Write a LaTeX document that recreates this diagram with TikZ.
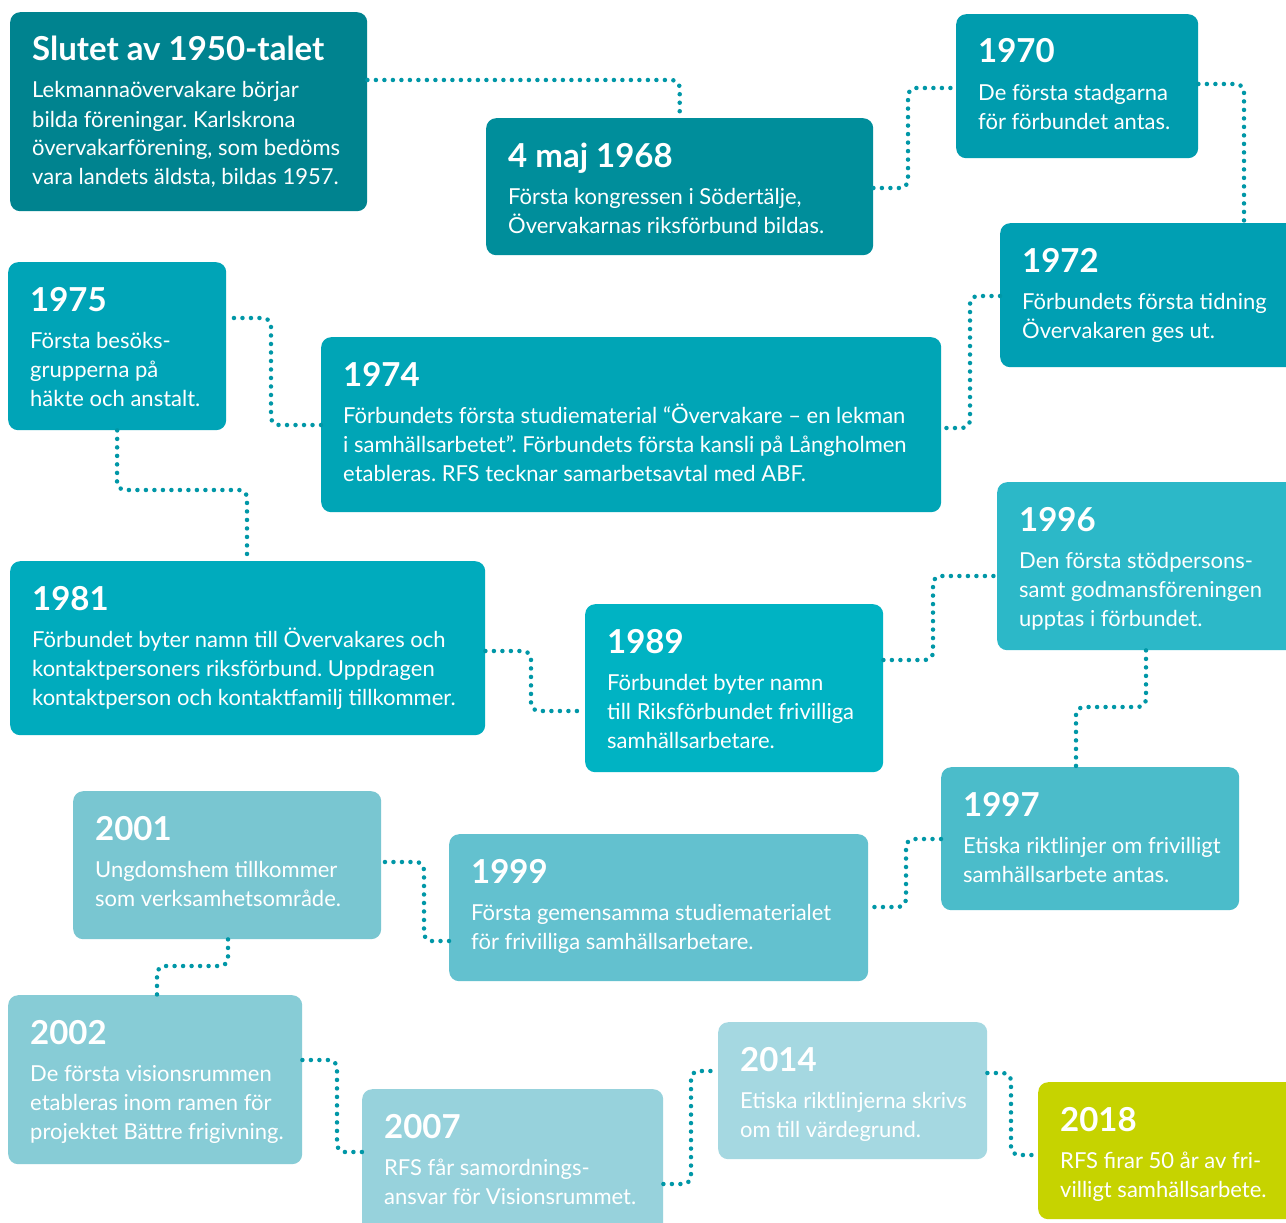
\documentclass[tikz,border=0pt]{standalone}
\usepackage{fontspec}
\setmainfont{Lato}
\usetikzlibrary{calc}
\frenchspacing
\definecolor{c1}{HTML}{00838F}
\definecolor{c2}{HTML}{008E9B}
\definecolor{c3}{HTML}{009CAE}
\definecolor{c4}{HTML}{009FB3}
\definecolor{c5}{HTML}{00A4B7}
\definecolor{c6}{HTML}{00A5B6}
\definecolor{c7}{HTML}{00ABBD}
\definecolor{c8}{HTML}{00B3C3}
\definecolor{c9}{HTML}{2CB8C8}
\definecolor{c10}{HTML}{4BBCCA}
\definecolor{c11}{HTML}{63C1CF}
\definecolor{c12}{HTML}{79C6D1}
\definecolor{c13}{HTML}{87CCD6}
\definecolor{c14}{HTML}{97D2DC}
\definecolor{c15}{HTML}{A5D8E1}
\definecolor{c16}{HTML}{C6D300}
\definecolor{dotc}{HTML}{0097A7}
\newcommand{\evt}[8]{%
  \node[evbox, fill=#6, minimum width=#4, minimum height=#5, anchor=north west] (#1) at (#2,#3) {};
  \node[hd] (#1h) at ($(#1.north west)+(22,49)$) {#7};
  \node[bd] (#1d) at ($(#1h.base west)+(0,37)$) {\vtop{\frenchspacing\let\\\cr\halign{##\hfil\cr #8\crcr}}};
}
\begin{document}
\begin{tikzpicture}[x=1pt,y=-1pt,
  evbox/.style={rectangle, rounded corners=10pt, draw=none, inner sep=0pt},
  hd/.style={anchor=base west, inner sep=0pt, text=white, font=\fontsize{33}{38}\selectfont\bfseries},
  bd/.style={anchor=base west, inner sep=0pt, text=white, font=\fontsize{22}{29}\selectfont},
  conn/.style={draw=dotc, line width=4.5pt, line cap=round, dash pattern=on 0pt off 8.5pt, rounded corners=8pt}]
\useasboundingbox (0,0) rectangle (1286,1223);
\fill[white] (0,0) rectangle (1286,1223);
\evt{b1}{10}{12}{357}{199}{c1}{Slutet av 1950-talet}{Lekmannaövervakare börjar\\bilda föreningar. Karlskrona\\övervakarförening, som bedöms\\vara landets äldsta, bildas 1957.}
\evt{b2}{486}{118}{387}{137}{c2}{4 maj 1968}{Första kongressen i Södertälje,\\Övervakarnas riksförbund bildas.}
\evt{b3}{956}{14}{242}{144}{c3}{1970}{De första stadgarna\\för förbundet antas.}
\evt{b4}{1000}{223}{300}{144}{c4}{1972}{Förbundets första tidning\\Övervakaren ges ut.}
\evt{b5}{8}{262}{218}{168}{c5}{1975}{Första besöks-\\grupperna på\\häkte och anstalt.}
\evt{b6}{321}{337}{620}{175}{c6}{1974}{Förbundets första studiematerial “Övervakare – en lekman\\i samhällsarbetet”. Förbundets första kansli på Långholmen\\etableras. RFS tecknar samarbetsavtal med ABF.}
\evt{b7}{10}{561}{475}{174}{c7}{1981}{Förbundet byter namn till Övervakares och\\kontaktpersoners riksförbund. Uppdragen\\kontaktperson och kontaktfamilj tillkommer.}
\evt{b8}{585}{604}{298}{168}{c8}{1989}{Förbundet byter namn\\till Riksförbundet frivilliga\\samhällsarbetare.}
\evt{b9}{997}{482}{300}{168}{c9}{1996}{Den första stödpersons-\\samt godmansföreningen\\upptas i förbundet.}
\evt{b10}{941}{767}{298}{143}{c10}{1997}{Etiska riktlinjer om frivilligt\\samhällsarbete antas.}
\evt{b11}{449}{834}{419}{147}{c11}{1999}{Första gemensamma studiematerialet\\för frivilliga samhällsarbetare.}
\evt{b12}{73}{791}{308}{148}{c12}{2001}{Ungdomshem tillkommer\\som verksamhetsområde.}
\evt{b13}{8}{995}{294}{169}{c13}{2002}{De första visionsrummen\\etableras inom ramen för\\projektet Bättre frigivning.}
\evt{b14}{362}{1089}{301}{150}{c14}{2007}{RFS får samordnings-\\ansvar för Visionsrummet.}
\evt{b15}{718}{1022}{269}{137}{c15}{2014}{Etiska riktlinjerna skrivs\\om till värdegrund.}
\evt{b16}{1038}{1082}{260}{137}{c16}{2018}{RFS firar 50 år av fri-\\villigt samhällsarbete.}
% connectors
\draw[conn] (b1.east |- 0,80) -| (b2.north);
\draw[conn] (b2.east |- 0,188) -- (908,188) -- (908,88) -- (b3.west |- 0,88);
\draw[conn] (b3.east |- 0,84) -- (1244,84) -- (b4.north -| 1244,0);
\draw[conn] (b4.west |- 0,296) -- (970,296) -- (970,428) -- (b6.east |- 0,428);
\draw[conn] (b6.west |- 0,425) -- (271,425) -- (271,318) -- (b5.east |- 0,318);
\draw[conn] (b5.south) -- (117,490) -- (247,490) -- (b7.north -| 247,0);
\draw[conn] (b7.east |- 0,651) -- (531,651) -- (531,711) -- (b8.west |- 0,711);
\draw[conn] (b8.east |- 0,660) -- (933,660) -- (933,576) -- (b9.west |- 0,576);
\draw[conn] (b9.south -| 1146,0) -- (1146,707) -- (1076,707) -- (b10.north -| 1076,0);
\draw[conn] (b10.west |- 0,839) -- (906,839) -- (906,907) -- (b11.east |- 0,907);
\draw[conn] (b11.west |- 0,941) -- (424,941) -- (424,862) -- (b12.east |- 0,862);
\draw[conn] (b12.south -| 228,0) -- (228,966) -- (157,966) -- (b13.north -| 157,0);
\draw[conn] (b13.east |- 0,1060) -- (337,1060) -- (337,1152) -- (b14.west |- 0,1152);
\draw[conn] (b14.east |- 0,1184) -- (691,1184) -- (691,1071) -- (b15.west |- 0,1071);
\draw[conn] (b15.east |- 0,1073) -- (1011,1073) -- (1011,1155) -- (b16.west |- 0,1155);
\end{tikzpicture}
\end{document}
